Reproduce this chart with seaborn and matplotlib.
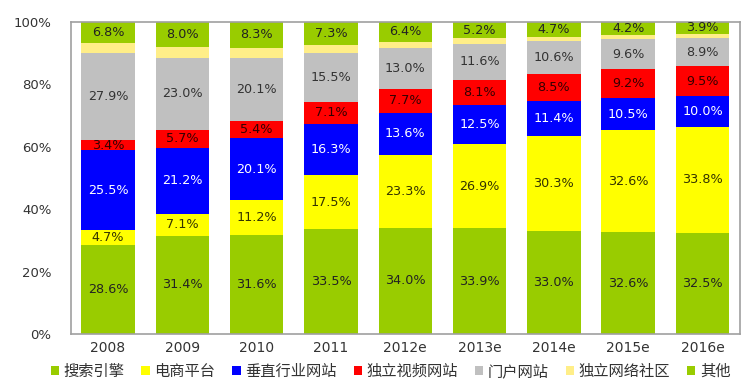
import matplotlib
matplotlib.use("Agg")
import matplotlib.pyplot as plt
import seaborn as sns
import pandas as pd
import numpy as np
from matplotlib.patches import Patch

years = ["2008", "2009", "2010", "2011", "2012e", "2013e", "2014e", "2015e", "2016e"]
series_names = ["搜索引擎", "电商平台", "垂直行业网站", "独立视频网站", "门户网站", "独立网络社区", "其他"]
search = [28.6, 31.4, 31.6, 33.5, 34.0, 33.9, 33.0, 32.6, 32.5]
ecommerce = [4.7, 7.1, 11.2, 17.5, 23.3, 26.9, 30.3, 32.6, 33.8]
vertical = [25.5, 21.2, 20.1, 16.3, 13.6, 12.5, 11.4, 10.5, 10.0]
video = [3.4, 5.7, 5.4, 7.1, 7.7, 8.1, 8.5, 9.2, 9.5]
portal = [27.9, 23.0, 20.1, 15.5, 13.0, 11.6, 10.6, 9.6, 8.9]
community = [3.1, 3.6, 3.3, 2.8, 2.0, 1.8, 1.5, 1.3, 1.4]
other = [6.8, 8.0, 8.3, 7.3, 6.4, 5.2, 4.7, 4.2, 3.9]

colors = ["#99CC00", "#FFFF00", "#0000FF", "#FF0000", "#C0C0C0", "#FFEE88", "#99CC00"]
text_colors = ["#222222", "#333300", "#FFFFFF", "#330000", "#333333", None, "#222222"]

series = [search, ecommerce, vertical, video, portal, community, other]

sns.set_theme(style="white")
plt.rcParams["font.family"] = ["DejaVu Sans", "Noto Sans CJK SC"]

fig = plt.figure(figsize=(7.54, 3.91), dpi=100)
ax = fig.add_axes([0.094, 0.146, 0.887, 0.798])

vals = np.array(series, dtype=float)
cum = np.cumsum(vals, axis=0)
total = cum[-1]

# draw from top layer down so lower layers overdraw
for i in range(len(series) - 1, -1, -1):
    df = pd.DataFrame({"year": years, "value": cum[i] / total * 100})
    sns.barplot(data=df, x="year", y="value", color=colors[i], saturation=1,
                width=0.72, ax=ax, linewidth=0, errorbar=None)

for i in range(len(series)):
    if text_colors[i] is None:
        continue
    for j in range(len(years)):
        lo = (cum[i][j] - vals[i][j]) / total[j] * 100
        hi = cum[i][j] / total[j] * 100
        ax.text(j, (lo + hi) / 2, f"{vals[i][j]:.1f}%", ha="center", va="center",
                fontsize=9.2, color=text_colors[i])

ax.set_ylim(0, 100)
ax.set_xlim(-0.5, len(years) - 0.5)
ax.set_yticks([0, 20, 40, 60, 80, 100])
ax.set_yticklabels([f"{v}%" for v in [0, 20, 40, 60, 80, 100]], fontsize=9.5, color="#333333")
ax.tick_params(axis="x", labelsize=10, colors="#333333", length=0, pad=5)
ax.tick_params(axis="y", length=0, pad=14)
ax.set_xlabel("")
ax.set_ylabel("")
for s in ax.spines.values():
    s.set_color("#A0A0A0")
    s.set_linewidth(1.2)

handles = [Patch(facecolor=c, edgecolor="none") for c in colors]
leg = fig.legend(handles, series_names, loc="center", bbox_to_anchor=(0.518, 0.05), ncol=7,
                 frameon=False, handlelength=0.55, handleheight=0.55, handletextpad=0.3,
                 columnspacing=1.1, prop={"family": ["Noto Sans CJK SC"], "size": 11})
for t in leg.get_texts():
    t.set_color("#333333")

fig.savefig("out.png", dpi=100)
